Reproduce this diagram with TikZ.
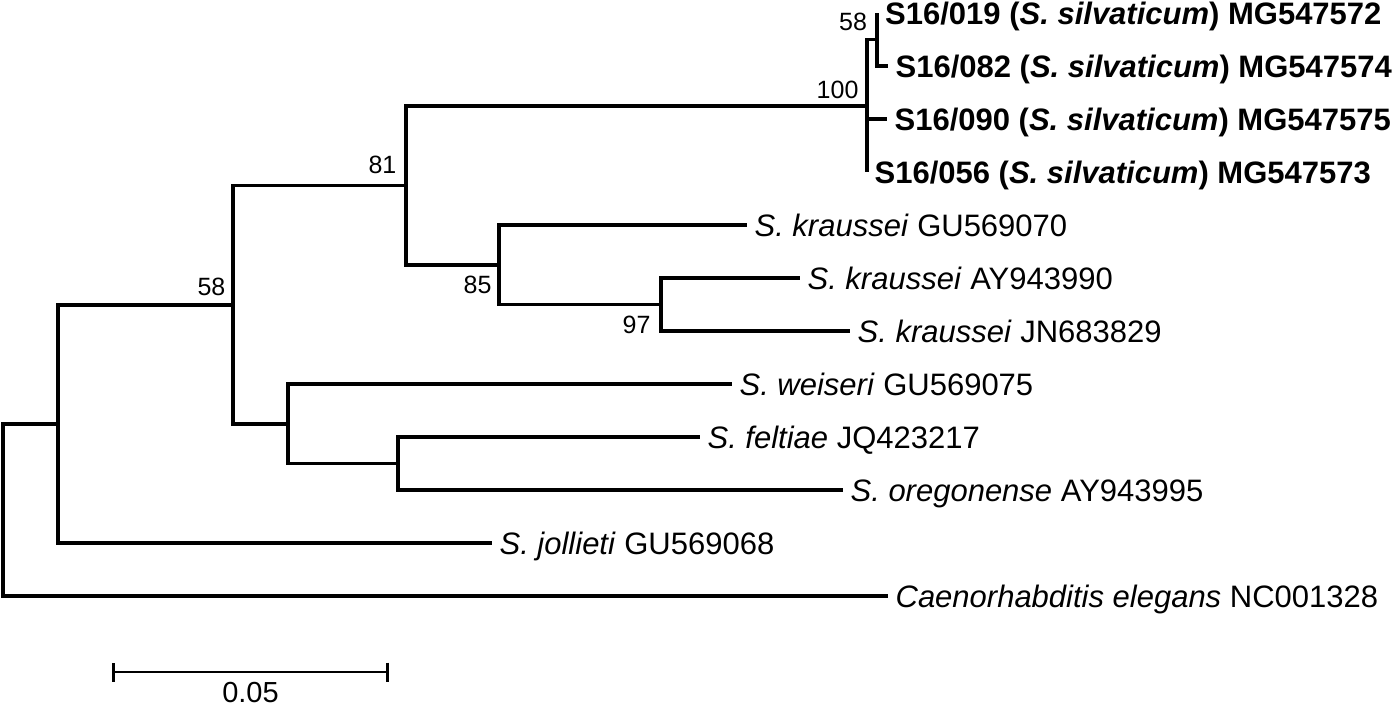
\documentclass[tikz,border=0pt]{standalone}
\usepackage{fontspec}
\setmainfont{Liberation Sans}
\usetikzlibrary{positioning,arrows.meta}

\tikzset{every picture/.style={line width=1.6pt}}
\tikzset{
  branch/.style={line width=1.6pt, line join=miter},
  leaf/.style={inner sep=0pt, text height=11.1pt, text depth=0pt, font=\fontsize{15.5pt}{18pt}\selectfont},
  boot/.style={inner sep=0pt, text height=8.95pt, text depth=0pt, font=\fontsize{12.5pt}{15pt}\selectfont},
  barlabel/.style={inner sep=0pt, text height=10.4pt, text depth=0pt, font=\fontsize{14.5pt}{17pt}\selectfont},
}

\begin{document}
\begin{tikzpicture}[x=0.5pt,y=0.5pt,yscale=-1,xscale=1]
\useasboundingbox (0,0) rectangle (1400,708);

% internal nodes
\coordinate (root) at (3,510);
\coordinate (nA) at (58,424);
\coordinate (n58) at (233,305);
\coordinate (n81) at (406,185.5);
\coordinate (n100) at (867,106);
\coordinate (n58b) at (877,39.5);
\coordinate (n85) at (499,265);
\coordinate (n97) at (661,304.5);
\coordinate (nW) at (288,424);
\coordinate (nF) at (398,463.5);

% tips
\coordinate (t019) at (877,13);
\coordinate (t082) at (888,66);
\coordinate (t090) at (887,119);
\coordinate (t056) at (867,172);
\coordinate (tGU70) at (747,225);
\coordinate (tAY90) at (800,278);
\coordinate (tJN29) at (850,331);
\coordinate (tWei) at (732,384);
\coordinate (tFel) at (700,437);
\coordinate (tOre) at (843,490);
\coordinate (tJol) at (492,543);
\coordinate (tCe) at (888,596);

% branches
\draw[branch] (root) |- (nA);
\draw[branch] (root) |- (tCe);
\draw[branch] (nA) |- (n58);
\draw[branch] (nA) |- (tJol);
\draw[branch] (n58) |- (n81);
\draw[branch] (n58) |- (nW);
\draw[branch] (n81) |- (n100);
\draw[branch] (n81) |- (n85);
\draw[branch] (n100) |- (n58b);
\draw[branch] (n100) |- (t090);
\draw[branch] (n100) |- (t056);
\draw[branch] (n58b) |- (t019);
\draw[branch] (n58b) |- (t082);
\draw[branch] (n85) |- (tGU70);
\draw[branch] (n85) |- (n97);
\draw[branch] (n97) |- (tAY90);
\draw[branch] (n97) |- (tJN29);
\draw[branch] (nW) |- (tWei);
\draw[branch] (nW) |- (nF);
\draw[branch] (nF) |- (tFel);
\draw[branch] (nF) |- (tOre);

% Text Node
\node[leaf, right=3.3pt of t019] (l019) {\textbf{S16/019 (\textit{S. silvaticum}) MG547572}};
\node[leaf, right=3pt of t082] (l082) {\textbf{S16/082 (\textit{S. silvaticum}) MG547574}};
\node[leaf, right=3pt of t090] (l090) {\textbf{S16/090 (\textit{S. silvaticum}) MG547575}};
\node[leaf, right=3pt of t056] (l056) {\textbf{S16/056 (\textit{S. silvaticum}) MG547573}};
\node[leaf, right=3pt of tGU70] (lGU70) {\textit{S. kraussei} GU569070};
\node[leaf, right=3pt of tAY90] (lAY90) {\textit{S. kraussei} AY943990};
\node[leaf, right=3pt of tJN29] (lJN29) {\textit{S. kraussei} JN683829};
\node[leaf, right=3pt of tWei] (lWei) {\textit{S. weiseri} GU569075};
\node[leaf, right=3pt of tFel] (lFel) {\textit{S. feltiae} JQ423217};
\node[leaf, right=3pt of tOre] (lOre) {\textit{S. oregonense} AY943995};
\node[leaf, right=3pt of tJol] (lJol) {\textit{S. jollieti} GU569068};
\node[leaf, right=3pt of tCe] (lCe) {\textit{Caenorhabditis elegans} NC001328};

% bootstrap values
\node[boot, above left=3.7pt and 4.2pt of n58b] (b58b) {58};
\node[boot, above left=3pt and 3.5pt of n100] (b100) {100};
\node[boot, above left=5pt and 4pt of n81] (b81) {81};
\node[boot, above left=3.8pt and 3pt of n58] (b58) {58};
\node[boot, below left=4.5pt and 3pt of n85] (b85) {85};
\node[boot, below left=4.8pt and 4.5pt of n97] (b97) {97};

% scale bar
\coordinate (sbL) at (112,672);
\coordinate (sbR) at (389,672);
\coordinate (sbM) at (250.5,672);
\draw[line width=1.4pt, {Bar[width=9.5pt]}-{Bar[width=9.5pt]}] (sbL) -- (sbR);
\node[barlabel, below=4pt of sbM] (sbText) {0.05};

\end{tikzpicture}
\end{document}
